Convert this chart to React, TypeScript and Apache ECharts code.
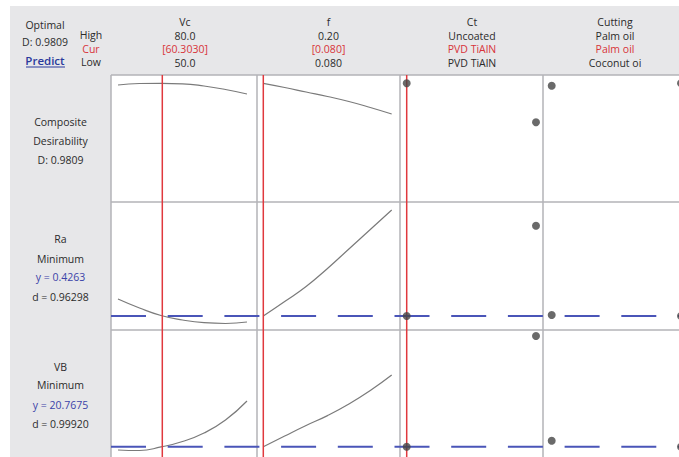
import React, { useEffect, useRef } from "react";
import * as echarts from "echarts";

// ---- factor settings ----
const vcLevels = [50, 55, 60, 65, 70, 75, 80];
const fLevels = [0.08, 0.1, 0.12, 0.14, 0.16, 0.18, 0.2];
const ctLevels = ["PVD TiAlN", "Uncoated"];
const cuttingLevels = ["Coconut oil", "Palm oil"];

const vcCur = 60.303;
const fCur = 0.08;
const ctCur = "PVD TiAlN";
const cuttingCur = "Palm oil";

// ---- header labels ----
const factorNames = ["Vc", "f", "Ct", "Cutting"];
const highLabels = ["80.0", "0.20", "Uncoated", "Palm oil"];
const curLabels = ["[60.3030]", "[0.080]", "PVD TiAlN", "Palm oil"];
const lowLabels = ["50.0", "0.080", "PVD TiAlN", "Coconut oi"];

// ---- composite desirability ----
const compVc = [0.977, 0.9805, 0.9809, 0.9798, 0.9747, 0.9667, 0.9563];
const compF = [0.9809, 0.9713, 0.9609, 0.9506, 0.9391, 0.9253, 0.9103];
const compCt = [0.9809, 0.8912];
const compCutting = [0.9754, 0.9809];

// ---- Ra ----
const raVc = [0.4582, 0.4413, 0.4272, 0.4188, 0.4137, 0.4122, 0.415];
const raF = [0.4263, 0.4536, 0.4817, 0.5156, 0.5522, 0.5888, 0.6255];
const raCt = [0.4263, 0.596];
const raCutting = [0.4282, 0.4263];
const raOpt = 0.4263;

// ---- VB ----
const vbVc = [20.543, 20.509, 20.75, 21.121, 21.698, 22.581, 23.871];
const vbF = [20.7675, 21.494, 22.207, 22.88, 23.668, 24.585, 25.637];
const vbCt = [20.7675, 28.286];
const vbCutting = [21.175, 20.7675];
const vbOpt = 20.7675;

// ---- row labels ----
const rowLabels = [
  ["Composite", "Desirability", "D: 0.9809"],
  ["Ra", "Minimum", "y = 0.4263", "d = 0.96298"],
  ["VB", "Minimum", "y = 20.7675", "d = 0.99920"],
];

// ---- layout (pixels) ----
const colEdges = [111, 257, 400, 543, 686];
const dataLeft = [118, 263.3, 406.7, 551.7];
const dataWidth = [129, 128.4, 129.3, 129.3];
const rowEdges = [75, 202, 330, 458];
const rowRanges: [number, number][] = [
  [0.708, 1.0],
  [0.4, 0.6405],
  [20, 28.694],
];
const headerX = [185, 328.5, 472, 615];
const rowLabelY = [
  [122.3, 141, 160],
  [239.3, 258.7, 277.3, 296.7],
  [366.7, 385.3, 405, 423.7],
];

const FONT = "10.5px 'Open Sans', 'Noto Sans', sans-serif";
const DARK = "#2b2b2b";
const RED = "#d8343a";
const BLUE = "#3b43a8";

function xAxisFor(c: number, gridIndex: number) {
  if (c === 0) return { gridIndex, type: "value", min: 50, max: 80, show: false };
  if (c === 1) return { gridIndex, type: "value", min: 0.08, max: 0.2, show: false };
  if (c === 2)
    return { gridIndex, type: "category", data: ctLevels, boundaryGap: false, show: false };
  return { gridIndex, type: "category", data: cuttingLevels, boundaryGap: false, show: false };
}

export default function App() {
  const ref = useRef<HTMLDivElement>(null);
  useEffect(() => {
    if (!ref.current) return;
    const chart = echarts.init(ref.current, undefined, { renderer: "svg" });

    const grids: any[] = [];
    const xAxes: any[] = [];
    const yAxes: any[] = [];
    const series: any[] = [];

    const cellData: any[][] = [
      [compVc, compF, compCt, compCutting],
      [raVc, raF, raCt, raCutting],
      [vbVc, vbF, vbCt, vbCutting],
    ];

    const mkGrid = (left: number, width: number, top: number, height: number) => ({
      left,
      width,
      top,
      height,
      show: false,
      containLabel: false,
      outerBoundsMode: "none",
    });

    // cell grids
    for (let r = 0; r < 3; r++) {
      for (let c = 0; c < 4; c++) {
        const gi = grids.length;
        grids.push(mkGrid(dataLeft[c], dataWidth[c], rowEdges[r], rowEdges[r + 1] - rowEdges[r]));
        xAxes.push(xAxisFor(c, gi));
        yAxes.push({ gridIndex: gi, type: "value", min: rowRanges[r][0], max: rowRanges[r][1], show: false });
        const vals = cellData[r][c];
        if (c < 2) {
          const levels = c === 0 ? vcLevels : fLevels;
          series.push({
            type: "line",
            xAxisIndex: gi,
            yAxisIndex: gi,
            data: levels.map((v, i) => [v, vals[i]]),
            smooth: true,
            showSymbol: false,
            clip: false,
            lineStyle: { color: "#7a7a7a", width: 1.2 },
            z: 3,
          });
        } else {
          const levels = c === 2 ? ctLevels : cuttingLevels;
          series.push({
            type: "scatter",
            xAxisIndex: gi,
            yAxisIndex: gi,
            data: levels.map((v, i) => [v, vals[i]]),
            symbolSize: 8,
            itemStyle: { color: "#454545" },
            clip: false,
            z: 6,
          });
        }
      }
    }

    // column overlay grids: red current-setting lines
    const curs: any[] = [vcCur, fCur, ctCur, cuttingCur];
    for (let c = 0; c < 4; c++) {
      const gi = grids.length;
      grids.push(mkGrid(dataLeft[c], dataWidth[c], rowEdges[0], rowEdges[3] - rowEdges[0]));
      xAxes.push(xAxisFor(c, gi));
      yAxes.push({ gridIndex: gi, type: "value", min: 0, max: 1, show: false });
      series.push({
        type: "line",
        xAxisIndex: gi,
        yAxisIndex: gi,
        data: [
          [curs[c], 0],
          [curs[c], 1],
        ],
        showSymbol: false,
        clip: false,
        lineStyle: { color: "#e0393e", width: 1.5 },
        z: 4,
      });
    }

    // row overlay grids: dashed optimum lines
    const opts: [number, number][] = [
      [1, raOpt],
      [2, vbOpt],
    ];
    for (const [r, val] of opts) {
      const gi = grids.length;
      grids.push(mkGrid(colEdges[0], colEdges[4] - colEdges[0], rowEdges[r], rowEdges[r + 1] - rowEdges[r]));
      xAxes.push({ gridIndex: gi, type: "value", min: 0, max: 1, show: false });
      yAxes.push({ gridIndex: gi, type: "value", min: rowRanges[r][0], max: rowRanges[r][1], show: false });
      series.push({
        type: "line",
        xAxisIndex: gi,
        yAxisIndex: gi,
        data: [
          [0, val],
          [1, val],
        ],
        showSymbol: false,
        clip: false,
        lineStyle: { color: "#4a55b8", width: 2, type: [35, 21.7] },
        z: 5,
      });
    }

    // graphics: backgrounds, borders, texts
    const g: any[] = [];
    g.push({ type: "rect", z: 0, shape: { x: 10, y: 6, width: 669, height: 69 }, style: { fill: "#e7e7e9" } });
    g.push({ type: "rect", z: 0, shape: { x: 10, y: 75, width: 101, height: 382 }, style: { fill: "#e7e7e9" } });
    for (let i = 0; i < 4; i++) {
      g.push({
        type: "line",
        z: 1,
        shape: { x1: colEdges[i], y1: rowEdges[0], x2: colEdges[i], y2: 457 },
        style: { stroke: "#b3b3b7", lineWidth: 1.5 },
      });
    }
    for (let j = 0; j < 3; j++) {
      g.push({
        type: "line",
        z: 1,
        shape: { x1: colEdges[0], y1: rowEdges[j], x2: 679, y2: rowEdges[j] },
        style: { stroke: "#b3b3b7", lineWidth: 1.5 },
      });
    }
    const txt = (text: string, x: number, y: number, fill = DARK, font = FONT) => ({
      type: "text",
      z: 2,
      style: {
        text,
        x,
        y,
        fill,
        font,
        lineHeight: 12,
        textAlign: "center",
        textVerticalAlign: "middle",
      },
    });
    g.push(txt("Optimal", 45, 25));
    g.push(txt("D: 0.9809", 45, 42));
    g.push(txt("Predict", 45, 60, "#2a3a9c", "600 11.5px 'Open Sans', 'Noto Sans', sans-serif"));
    g.push({ type: "line", z: 2, shape: { x1: 26, y1: 67, x2: 65, y2: 67 }, style: { stroke: "#2a3a9c", lineWidth: 1 } });
    g.push(txt("High", 91, 35));
    g.push(txt("Cur", 91, 48.5, RED));
    g.push(txt("Low", 91, 62));
    for (let c = 0; c < 4; c++) {
      g.push(txt(factorNames[c], headerX[c], 22));
      g.push(txt(highLabels[c], headerX[c], 35.5));
      g.push(txt(curLabels[c], headerX[c], 49, RED));
      g.push(txt(lowLabels[c], headerX[c], 63));
    }
    for (let r = 0; r < 3; r++) {
      rowLabels[r].forEach((t, i) => {
        const fill = t.startsWith("y =") ? BLUE : DARK;
        g.push(txt(t, 60.5, rowLabelY[r][i], fill));
      });
    }

    chart.setOption({
      animation: false,
      backgroundColor: "#ffffff",
      grid: grids,
      xAxis: xAxes,
      yAxis: yAxes,
      series,
      graphic: { elements: g },
    });
    return () => chart.dispose();
  }, []);
  return (
    <div
      ref={ref}
      style={{ position: "fixed", left: 0, top: 0, width: 679, height: 457 }}
    />
  );
}
